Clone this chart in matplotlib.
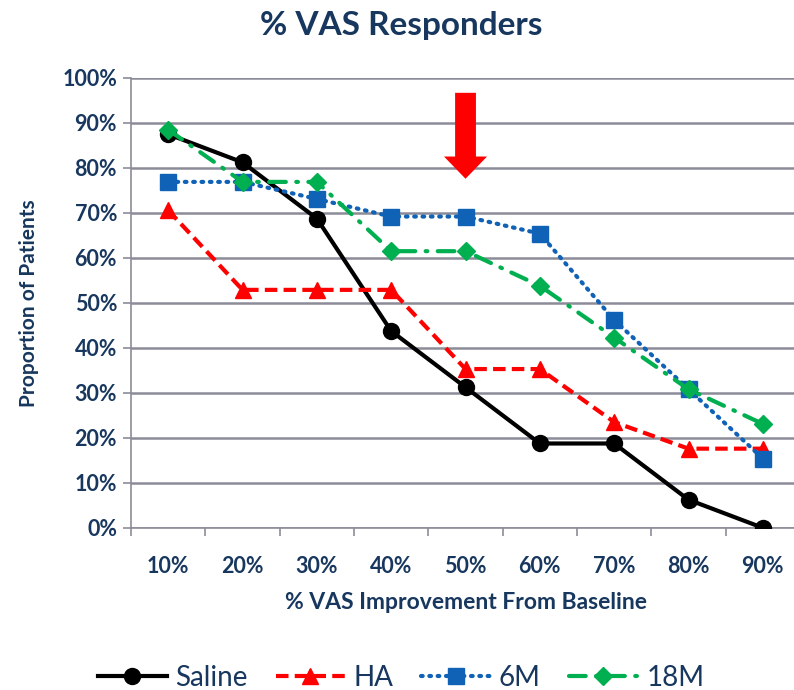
import matplotlib.pyplot as plt
import numpy as np

plt.rcParams['font.family'] = ['Lato', 'DejaVu Sans']

categories = ['10%', '20%', '30%', '40%', '50%', '60%', '70%', '80%', '90%']
saline = [87.5, 81.25, 68.75, 43.75, 31.25, 18.75, 18.75, 6.25, 0.0]
ha = [70.6, 52.9, 52.9, 52.9, 35.3, 35.3, 23.5, 17.6, 17.6]
m6 = [76.9, 76.9, 73.1, 69.2, 69.2, 65.4, 46.2, 30.8, 15.4]
m18 = [88.5, 76.9, 76.9, 61.5, 61.5, 53.8, 42.3, 30.8, 23.1]

navy = '#17375E'
grid_col = '#8C8C99'

fig = plt.figure(figsize=(7.94, 6.9), dpi=100)
ax = fig.add_axes([0.165, 0.235, 0.8426, 0.652])

x = np.arange(len(categories)) + 0.5

ax.plot(x, saline, color='black', lw=3, marker='o', ms=11.5, label='Saline', zorder=3)
ax.plot(x, ha, color='#FF0000', lw=3, ls=(0, (3, 1.5)), marker='^', ms=12, label='HA', zorder=4)
ax.plot(x, m6, color='#0F62B6', lw=3, ls=(0, (0.4, 1.6)), dash_capstyle='round',
        marker='s', ms=12, label='6M', zorder=5)
ax.plot(x, m18, color='#00B050', lw=3, ls=(0, (4, 2.5, 0.4, 2.5)), dash_capstyle='round',
        marker='D', ms=9.5, label='18M', zorder=6)

# red arrow above the 50% category
ax.annotate('', xy=(x[4], 77.6), xytext=(x[4], 96.7),
            arrowprops=dict(arrowstyle='simple,head_width=3.1,head_length=1.6,tail_width=1.5',
                            color='#FF0000', lw=0, shrinkA=0, shrinkB=0), zorder=7)

ax.set_xlim(0, len(categories))
ax.set_ylim(0, 100)
ax.set_yticks(np.arange(0, 101, 10))
ax.set_yticklabels([f'{v}%' for v in range(0, 101, 10)])
ax.set_xticks(np.arange(0, len(categories) + 1))
ax.set_xticklabels([])
ax.set_xticks(x, minor=True)
ax.set_xticklabels(categories, minor=True)

ax.grid(axis='y', color=grid_col, lw=1.8)
ax.set_axisbelow(True)
for s in ['top', 'right']:
    ax.spines[s].set_visible(False)
for s in ['left', 'bottom']:
    ax.spines[s].set_color(grid_col)
    ax.spines[s].set_linewidth(1.2)

ax.tick_params(axis='x', which='major', length=6, color=grid_col, width=1.2)
ax.tick_params(axis='x', which='minor', length=0, pad=20, labelsize=15.5, labelcolor=navy)
ax.tick_params(axis='y', length=6, color=grid_col, width=1.2, pad=4, labelsize=15.5, labelcolor=navy)
for lab in ax.get_xticklabels(minor=True) + ax.get_yticklabels():
    lab.set_fontweight('bold')

ax.set_xlabel('% VAS Improvement From Baseline', fontsize=16.5, fontweight='bold', color=navy, labelpad=11)
ax.set_ylabel('Proportion of Patients', fontsize=15, fontweight='bold', color=navy, labelpad=17)

fig.text(0.505, 0.963, '% VAS Responders', ha='center', va='center',
         fontsize=24, fontweight='bold', color=navy)

leg = fig.legend(loc='center', bbox_to_anchor=(0.505, 0.018), ncol=4, frameon=False,
                 fontsize=20, handlelength=2.5, columnspacing=1.0, handletextpad=0.3)
for t in leg.get_texts():
    t.set_color(navy)

fig.savefig('out.png', dpi=100)
